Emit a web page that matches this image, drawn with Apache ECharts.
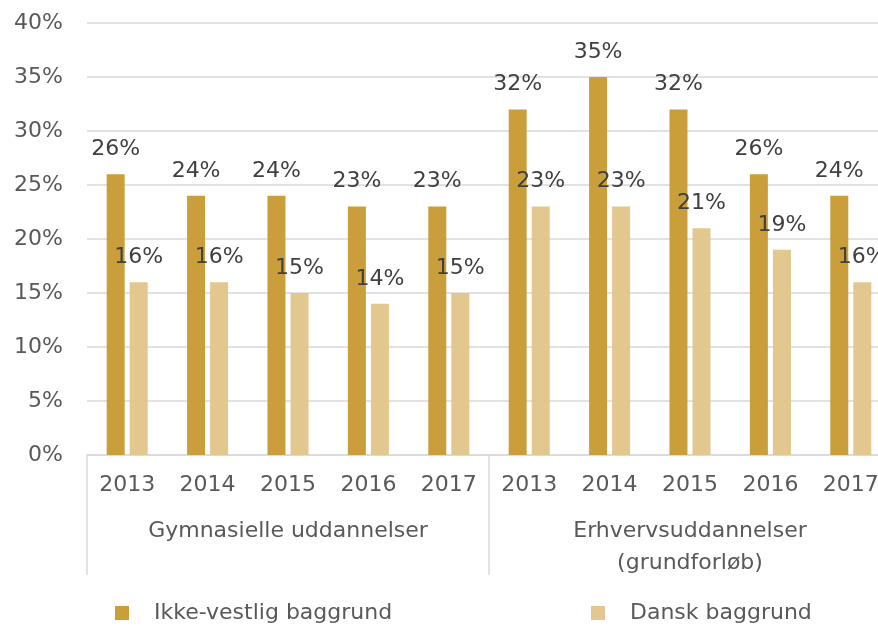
<!DOCTYPE html>
<html>
<head>
<meta charset="utf-8">
<script src="https://cdn.jsdelivr.net/npm/echarts@6/dist/echarts.min.js"></script>
<style>
  html, body { margin: 0; padding: 0; background: #fff; }
  #chart { width: 878px; height: 627px; }
</style>
</head>
<body>
<div id="chart"></div>
<script>
// data
var years = ['2013', '2014', '2015', '2016', '2017', '2013', '2014', '2015', '2016', '2017'];
var groups = ['Gymnasielle uddannelser', 'Erhvervsuddannelser\n(grundforløb)'];
var ikkeVestlig = [26, 24, 24, 23, 23, 32, 35, 32, 26, 24];
var dansk = [16, 16, 15, 14, 15, 23, 23, 21, 19, 16];

var font = 'DejaVu Sans';
var txt = '#595959';
var fs = 22;

var chart = echarts.init(document.getElementById('chart'));

var option = {
  animation: false,
  textStyle: { fontFamily: font },
  grid: { left: 87, top: 23, width: 804, height: 432, outerBoundsMode: 'none', containLabel: false },
  legend: [{
    left: 110, top: 597,
    icon: 'rect', itemWidth: 14, itemHeight: 14,
    data: ['Ikke-vestlig baggrund'],
    textStyle: { fontFamily: font, fontSize: fs, color: txt, padding: [0, 0, 0, 20] }
  }, {
    left: 586, top: 597,
    icon: 'rect', itemWidth: 14, itemHeight: 14,
    data: ['Dansk baggrund'],
    textStyle: { fontFamily: font, fontSize: fs, color: txt, padding: [0, 0, 0, 20] }
  }],
  xAxis: [{
    type: 'category',
    data: years,
    position: 'bottom',
    axisLine: { lineStyle: { color: '#d9d9d9', width: 1.5 } },
    axisTick: { show: false },
    axisLabel: { fontFamily: font, fontSize: fs, color: txt, margin: 19, hideOverlap: false }
  }, {
    type: 'category',
    data: groups,
    position: 'bottom',
    axisLine: { show: false },
    axisTick: { show: true, length: 120, lineStyle: { color: '#d9d9d9', width: 1.5 } },
    axisLabel: { fontFamily: font, fontSize: fs, color: txt, margin: 60, lineHeight: 32 }
  }],
  yAxis: {
    type: 'value',
    min: 0, max: 40, interval: 5,
    axisLabel: { formatter: '{value}%', fontFamily: font, fontSize: fs, color: txt, margin: 24 },
    axisLine: { show: false },
    axisTick: { show: false },
    splitLine: { lineStyle: { color: '#d9d9d9', width: 1.5 } }
  },
  series: [{
    name: 'Ikke-vestlig baggrund',
    type: 'bar',
    data: ikkeVestlig,
    barWidth: 18,
    barGap: '28%',
    itemStyle: { color: '#CA9F3B' },
    label: { show: true, position: 'top', formatter: '{c}%', fontFamily: font, fontSize: fs, color: '#404040', distance: 14 }
  }, {
    name: 'Dansk baggrund',
    type: 'bar',
    data: dansk,
    barWidth: 18,
    itemStyle: { color: '#E2C78E' },
    label: { show: true, position: 'top', formatter: '{c}%', fontFamily: font, fontSize: fs, color: '#404040', distance: 14 }
  }]
};

chart.setOption(option);
</script>
</body>
</html>
